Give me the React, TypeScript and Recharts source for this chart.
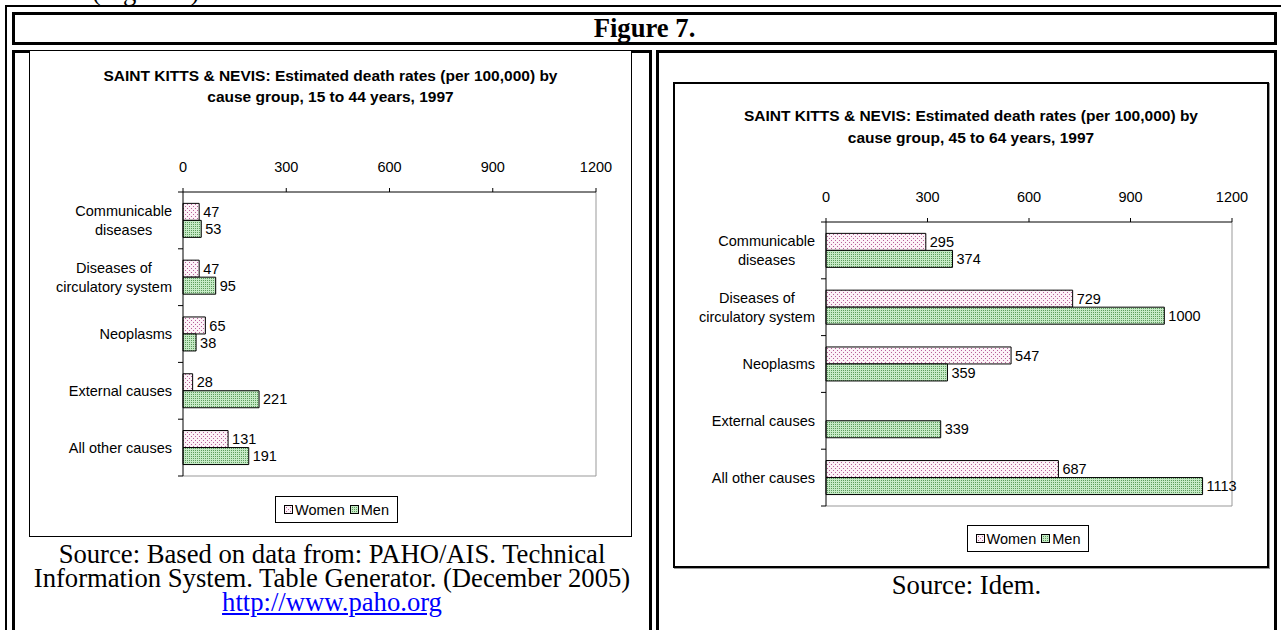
import React from "react";
import { BarChart, Bar, XAxis, YAxis, LabelList, ReferenceArea } from "recharts";

const causes = [
  "Communicable diseases",
  "Diseases of circulatory system",
  "Neoplasms",
  "External causes",
  "All other causes",
];
const causeLines: string[][] = [
  ["Communicable", "diseases"],
  ["Diseases of", "circulatory system"],
  ["Neoplasms"],
  ["External causes"],
  ["All other causes"],
];
const women15to44 = [47, 47, 65, 28, 131];
const men15to44 = [53, 95, 38, 221, 191];
const women45to64 = [295, 729, 547, 0, 687];
const men45to64 = [374, 1000, 359, 339, 1113];
const rateTicks = [0, 300, 600, 900, 1200];
const seriesNames = ["Women", "Men"];
const patternIds = ["womenDots", "menDots"];

const SANS = '"Liberation Sans", Arial, sans-serif';
const SERIF = '"Liberation Serif", "Times New Roman", serif';
const FS = 14.5;
const TITLE_FS = 15.5;

let measureCtx: CanvasRenderingContext2D | null = null;
function textWidth(s: string) {
  if (!measureCtx) measureCtx = document.createElement("canvas").getContext("2d");
  if (!measureCtx) return s.length * FS * 0.5;
  measureCtx.font = `${FS}px ${SANS}`;
  return measureCtx.measureText(s).width;
}

// multi-line category label, lines centred on each other, block right-aligned
function CauseTick(props: any) {
  const { x, y, payload, band } = props;
  const idx = causes.indexOf(payload.value);
  const lines = causeLines[idx] ?? [String(payload.value)];
  const w = Math.max(...lines.map(textWidth));
  const axisX = x + 11;
  const cx = x - w / 2;
  const lh = 19;
  return (
    <g>
      <line x1={axisX - 5} x2={axisX} y1={y - band / 2} y2={y - band / 2} stroke="#000" />
      {idx === causes.length - 1 && (
        <line x1={axisX - 5} x2={axisX} y1={y + band / 2} y2={y + band / 2} stroke="#000" />
      )}
      <text textAnchor="middle" fontSize={FS} fontFamily={SANS} fill="#000">
        {lines.map((l, i) => (
          <tspan key={i} x={cx} y={y + (i - (lines.length - 1) / 2) * lh} dy="0.35em">
            {l}
          </tspan>
        ))}
      </text>
    </g>
  );
}

type Geo = {
  box: number[]; // left, top, width, height
  plot: number[]; // left, top, right, bottom (page coords)
  titleTop: number;
  titleLine: number;
  legend: number[]; // left, top, width, height
  border: number;
  shadow: boolean;
};

function DotLegend({ legend }: { legend: number[] }) {
  const [left, top, width, height] = legend;
  return (
    <div
      style={{
        position: "absolute",
        left,
        top,
        width,
        height,
        boxSizing: "border-box",
        border: "1px solid #000",
        background: "#fff",
        display: "flex",
        alignItems: "center",
        justifyContent: "center",
        gap: 5,
        fontFamily: SANS,
        fontSize: FS,
        color: "#000",
      }}
    >
      {seriesNames.map((n, i) => (
        <span key={n} style={{ display: "flex", alignItems: "center", gap: 2 }}>
          <svg width={9} height={9}>
            <rect x={0.5} y={0.5} width={8} height={8} fill={`url(#${patternIds[i]})`} stroke="#000" />
          </svg>
          {n}
        </span>
      ))}
    </div>
  );
}

function RateChart({
  title,
  women,
  men,
  geo,
}: {
  title: string[];
  women: number[];
  men: number[];
  geo: Geo;
}) {
  const [bx, by, bw, bh] = geo.box;
  const [pl, pt, pr, pb] = geo.plot;
  const data = causes.map((c, i) => ({ cause: c, women: women[i], men: men[i] }));
  const band = (pb - pt) / causes.length;

  return (
    <>
      <div
        style={{
          position: "absolute",
          left: bx,
          top: by,
          width: bw,
          height: bh,
          boxSizing: "border-box",
          border: `${geo.border}px solid #000`,
          boxShadow: geo.shadow ? "1px 1px 0 #999" : "none",
          background: "#fff",
        }}
      />
      <div
        style={{
          position: "absolute",
          left: bx,
          top: geo.titleTop,
          width: bw,
          textAlign: "center",
          fontFamily: SANS,
          fontWeight: "bold",
          fontSize: TITLE_FS,
          lineHeight: `${geo.titleLine}px`,
          color: "#000",
          whiteSpace: "nowrap",
        }}
      >
        {title.map((t) => (
          <div key={t}>{t}</div>
        ))}
      </div>
      <div style={{ position: "absolute", left: bx, top: by }}>
        <BarChart
          width={bw}
          height={bh}
          data={data}
          layout="vertical"
          margin={{ top: pt - by - 30, right: bx + bw - pr, bottom: by + bh - pb, left: 0 }}
          barCategoryGap="20%"
          barGap={0}
        >
          <ReferenceArea
            x1={0}
            x2={1200}
            shape={(p: any) => (
              <path
                d={`M${p.x + p.width},${p.y} V${p.y + p.height} H${p.x}`}
                stroke="#999"
                fill="none"
              />
            )}
          />
          <XAxis
            type="number"
            orientation="top"
            domain={[0, 1200]}
            ticks={rateTicks}
            interval={0}
            height={30}
            tickSize={4}
            tickMargin={geo.plot[1] - geo.box[1] > 120 ? 16 : 15}
            axisLine={{ stroke: "#000" }}
            tickLine={{ stroke: "#000" }}
            tick={{ fill: "#000", fontSize: FS, fontFamily: SANS }}
          />
          <YAxis
            type="category"
            dataKey="cause"
            width={pl - bx}
            interval={0}
            tickLine={false}
            tickSize={0}
            tickMargin={11}
            axisLine={{ stroke: "#000" }}
            tick={(p: any) => <CauseTick {...p} band={band} />}
          />
          <Bar dataKey="women" name="Women" fill="url(#womenDots)" stroke="#000" strokeWidth={1} isAnimationActive={false}>
            <LabelList dataKey="women" position="right" offset={4} fill="#000" fontSize={FS} fontFamily={SANS} />
          </Bar>
          <Bar dataKey="men" name="Men" fill="url(#menDots)" stroke="#000" strokeWidth={1} isAnimationActive={false}>
            <LabelList dataKey="men" position="right" offset={4} fill="#000" fontSize={FS} fontFamily={SANS} />
          </Bar>
        </BarChart>
      </div>
      <DotLegend legend={geo.legend} />
    </>
  );
}

const leftGeo: Geo = {
  box: [29, 50, 603, 487],
  plot: [183, 192, 596, 476],
  titleTop: 65,
  titleLine: 21,
  legend: [275, 496, 123, 27],
  border: 1,
  shadow: false,
};
const rightGeo: Geo = {
  box: [673, 82, 596, 486],
  plot: [826, 222, 1232, 506],
  titleTop: 105,
  titleLine: 22,
  legend: [967, 525, 122, 27],
  border: 2,
  shadow: true,
};

const cell = (left: number, top: number, width: number, height: number): React.CSSProperties => ({
  position: "absolute",
  left,
  top,
  width,
  height,
  boxSizing: "border-box",
  border: "3px solid #000",
});

export default function App() {
  return (
    <div
      style={{
        position: "absolute",
        left: 0,
        top: 0,
        width: 1281,
        height: 630,
        overflow: "hidden",
        background: "#fff",
        fontFamily: SERIF,
        color: "#000",
      }}
    >
      <svg width={0} height={0} style={{ position: "absolute" }}>
        <defs>
          <pattern id="womenDots" width={4} height={4} patternUnits="userSpaceOnUse">
            <rect width={4} height={4} fill="#fcf2f7" />
            <rect x={0} y={0} width={1} height={1} fill="#b8609a" />
            <rect x={2} y={2} width={1} height={1} fill="#b8609a" />
          </pattern>
          <pattern id="menDots" width={2} height={2} patternUnits="userSpaceOnUse">
            <rect width={2} height={2} fill="#c6eac6" />
            <rect x={0} y={0} width={1} height={1} fill="#5c9c5c" />
          </pattern>
        </defs>
      </svg>

      <div style={{ position: "absolute", left: 92, top: -24, fontSize: 26.67, lineHeight: "30px", whiteSpace: "nowrap" }}>
        (Figure 6).
      </div>

      <div style={{ position: "absolute", left: 5, top: 5, width: 1300, height: 700, boxSizing: "border-box", border: "2px solid #000" }} />
      <div style={cell(12, 12, 1265, 33)} />
      <div
        style={{
          position: "absolute",
          left: 12,
          top: 13,
          width: 1265,
          textAlign: "center",
          fontWeight: "bold",
          fontSize: 26.67,
          lineHeight: "30px",
        }}
      >
        Figure 7.
      </div>
      <div style={cell(12, 50, 640, 700)} />
      <div style={cell(656, 50, 621, 700)} />

      <RateChart
        title={["SAINT KITTS & NEVIS: Estimated death rates (per 100,000) by", "cause group, 15 to 44 years, 1997"]}
        women={women15to44}
        men={men15to44}
        geo={leftGeo}
      />
      <RateChart
        title={["SAINT KITTS & NEVIS: Estimated death rates (per 100,000) by", "cause group, 45 to 64 years, 1997"]}
        women={women45to64}
        men={men45to64}
        geo={rightGeo}
      />

      <div
        style={{
          position: "absolute",
          left: 12,
          top: 542,
          width: 640,
          textAlign: "center",
          fontSize: 26.67,
          lineHeight: "24px",
        }}
      >
        <div>Source: Based on data from: PAHO/AIS. Technical</div>
        <div>Information System. Table Generator. (December 2005)</div>
        <div style={{ color: "#0000ff", textDecoration: "underline" }}>http://www.paho.org</div>
      </div>
      <div
        style={{
          position: "absolute",
          left: 656,
          top: 573,
          width: 621,
          textAlign: "center",
          fontSize: 26.67,
          lineHeight: "24px",
        }}
      >
        Source: Idem.
      </div>
    </div>
  );
}
